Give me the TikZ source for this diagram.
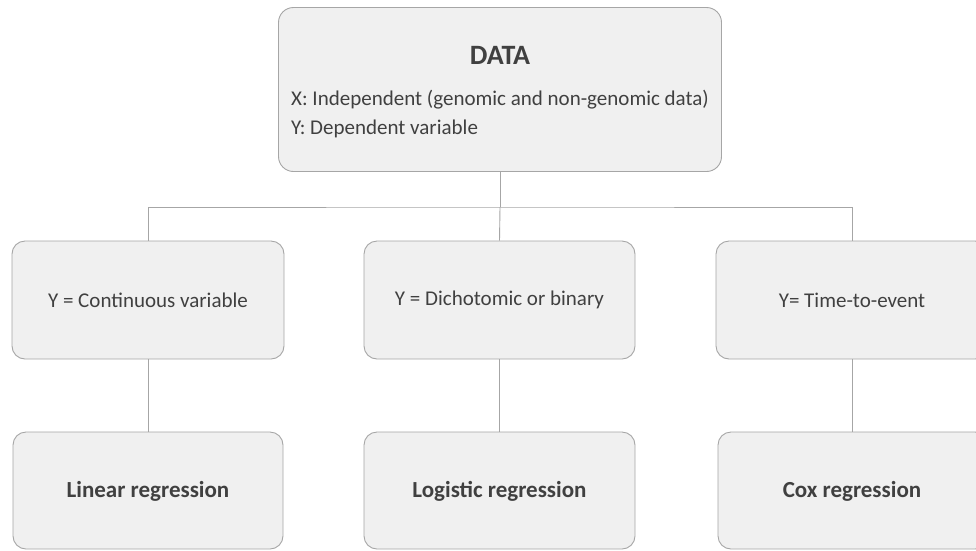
\documentclass[tikz,border=0pt]{standalone}
\usepackage{fontspec}
\setmainfont{Carlito}
\definecolor{boxfill}{HTML}{F0F0F0}
\definecolor{boxline}{HTML}{A6A6A6}
\definecolor{txt}{HTML}{404040}
\definecolor{conncol}{HTML}{A6A6A6}
\begin{document}
\begin{tikzpicture}[x=1pt,y=-1pt,
  card/.style={draw=boxline, fill=boxfill, line width=0.9pt, rounded corners=13pt, inner sep=0pt},
  conn/.style={draw=conncol, line width=0.9pt},
  lbl/.style={text=txt, inner sep=0pt, font=\fontsize{21}{25}\selectfont},
  blbl/.style={text=txt, inner sep=0pt, font=\fontsize{23}{27}\selectfont\bfseries}]
\clip (0,0) rectangle (976,550);
\fill[white] (0,0) rectangle (976,550);
% top box
\node[card, minimum width=443pt, minimum height=164pt, rounded corners=15pt] (top) at (500,89.5) {};
\node[text=txt, inner sep=0pt, font=\fontsize{28}{32}\selectfont\bfseries] (title) at (500,55) {DATA};
\node[lbl, anchor=west] (xline) at (291,100) {X: Independent (genomic and non-genomic data)};
\node[lbl, anchor=west] (yline) at (291,129) {Y: Dependent variable};
% middle boxes
\node[card, minimum width=272pt, minimum height=118pt] (m1) at (148,300) {};
\node[card, minimum width=271pt, minimum height=118pt] (m2) at (499.5,300) {};
\node[card, minimum width=272pt, minimum height=118pt] (m3) at (852,300) {};
\node[lbl] (t1) at (148,300) {Y = Continuous variable};
\node[lbl] (t2) at (499.5,300) {Y = Dichotomic or binary};
\node[lbl] (t3) at (852,300) {Y= Time-to-event};
% bottom boxes
\node[card, minimum width=270pt, minimum height=117pt] (b1) at (148,490.5) {};
\node[card, minimum width=271pt, minimum height=117pt] (b2) at (499.5,490.5) {};
\node[card, minimum width=270pt, minimum height=117pt] (b3) at (853,490.5) {};
\node[blbl] (u1) at (148,491) {Linear regression};
\node[blbl] (u2) at (499.5,491) {Logistic regression};
\node[blbl] (u3) at (852,491) {Cox regression};
% connectors
\coordinate (j) at (500,207);
\draw[conn] (top.south) -- (j);
\draw[conn] (m1.north) |- (j) -| (m3.north);
\draw[conn] (j) -- (m2.north);
\draw[conn] (m1.south) -- (b1.north);
\draw[conn] (m2.south) -- (b2.north);
\draw[conn] (m3.south) -- (b3.north -| m3.south);
\end{tikzpicture}
\end{document}
